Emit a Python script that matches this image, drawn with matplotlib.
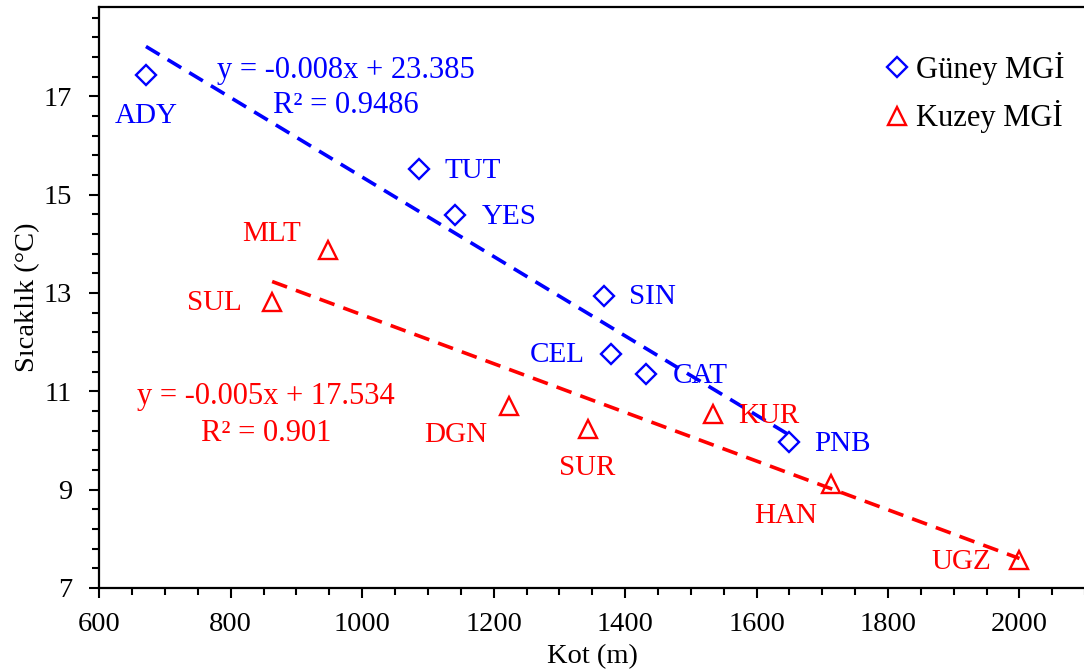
import numpy as np
import matplotlib
matplotlib.use("Agg")
import matplotlib.pyplot as plt
from matplotlib.ticker import MultipleLocator
from matplotlib.lines import Line2D

# ── Veriler ───────────────────────────────────────────────────────────────
guney_kod = ["ADY", "TUT", "YES", "SIN", "CEL", "CAT", "PNB"]
guney_kot = [671, 1086, 1141, 1368, 1379, 1432, 1650]
guney_sic = [17.43, 15.53, 14.58, 12.93, 11.75, 11.36, 9.97]

kuzey_kod = ["MLT", "SUL", "DGN", "SUR", "KUR", "HAN", "UGZ"]
kuzey_kot = [948, 863, 1223, 1343, 1533, 1713, 2000]
kuzey_sic = [13.88, 12.82, 10.71, 10.24, 10.54, 9.12, 7.57]

guney_denklem = "y = -0.008x + 23.385\nR² = 0.9486"
kuzey_denklem = "y = -0.005x + 17.534\nR² = 0.901"

# etiket kaymaları (piksel, sağa / yukarı)
guney_off = [(0, -41), (54, -2), (54, -2), (48, -1), (-54, -1), (54, -2), (53, -2)]
kuzey_off = [(-56, 16), (-58, -1), (-53, -29), (0, -39), (56, -2), (-45, -32), (-58, -2)]

MAVI = "#0000FF"
KIRMIZI = "#FF0000"
FS = 21
FS_BUYUK = 22

plt.rcParams["font.family"] = ["Liberation Serif", "DejaVu Serif"]

fig = plt.figure(figsize=(10.84, 6.71), dpi=100)
ax = fig.add_axes([0.0916, 0.1237, 0.9095, 0.8663])


def trend(x, y):
    k = np.polyfit(x, y, 1)
    xs = np.array([min(x), max(x)])
    return xs, np.polyval(k, xs)


xs, ys = trend(guney_kot, guney_sic)
ax.plot(xs, ys, color=MAVI, lw=2.6, ls=(0, (4.4, 2.6)), zorder=2)
xs, ys = trend(kuzey_kot, kuzey_sic)
ax.plot(xs, ys, color=KIRMIZI, lw=2.6, ls=(0, (4.4, 2.6)), zorder=2)

ax.plot(guney_kot, guney_sic, ls="none", marker="D", ms=10, mfc="none",
        mec=MAVI, mew=1.7, zorder=3)
ax.plot(kuzey_kot, kuzey_sic, ls="none", marker="^", ms=13.5, mfc="none",
        mec=KIRMIZI, mew=1.7, zorder=3)

for kod, x, y, (dx, dy) in zip(guney_kod, guney_kot, guney_sic, guney_off):
    ax.annotate(kod, (x, y), xytext=(dx, dy), textcoords="offset pixels",
                ha="center", va="center", color=MAVI, fontsize=FS)
for kod, x, y, (dx, dy) in zip(kuzey_kod, kuzey_kot, kuzey_sic, kuzey_off):
    ax.annotate(kod, (x, y), xytext=(dx, dy), textcoords="offset pixels",
                ha="center", va="center", color=KIRMIZI, fontsize=FS)

ax.text(346 / 1084, 1 - 88 / 671, guney_denklem, transform=fig.transFigure,
        ha="center", va="center", color=MAVI, fontsize=FS_BUYUK, linespacing=1.3)
ax.text(266 / 1084, 1 - 415 / 671, kuzey_denklem, transform=fig.transFigure,
        ha="center", va="center", color=KIRMIZI, fontsize=FS_BUYUK, linespacing=1.35)

ax.set_xlim(600, 2100)
ax.set_ylim(7, 18.82)
ax.xaxis.set_major_locator(MultipleLocator(200))
ax.xaxis.set_minor_locator(MultipleLocator(50))
ax.yaxis.set_major_locator(MultipleLocator(2, offset=1))
ax.yaxis.set_minor_locator(MultipleLocator(0.4, offset=0.2))
ax.set_xticks([600, 800, 1000, 1200, 1400, 1600, 1800, 2000])
ax.tick_params(which="major", length=7.5, width=1.5, labelsize=20.5)
ax.tick_params(which="minor", length=5, width=1.5)
ax.tick_params(axis="x", which="major", pad=10)
ax.tick_params(axis="y", which="major", pad=12)
ax.spines["right"].set_visible(False)
for s in ["left", "top", "bottom"]:
    ax.spines[s].set_linewidth(1.6)

ax.set_xlabel("Kot (m)", fontsize=20.5, labelpad=5)
ax.set_ylabel("Sıcaklık (°C)", fontsize=20.5, labelpad=3)

h = [Line2D([], [], ls="none", marker="D", ms=10, mfc="none", mec=MAVI, mew=1.7),
     Line2D([], [], ls="none", marker="^", ms=13.5, mfc="none", mec=KIRMIZI, mew=1.7)]
ax.legend(h, ["Güney MGİ", "Kuzey MGİ"], loc="upper left",
          bbox_to_anchor=(885 / 1084, 1 - 52 / 671), bbox_transform=fig.transFigure,
          frameon=False, fontsize=FS_BUYUK, handlelength=0.8, handletextpad=0.2,
          labelspacing=0.5, borderpad=0, borderaxespad=0)

fig.savefig("out.png", dpi=100)
